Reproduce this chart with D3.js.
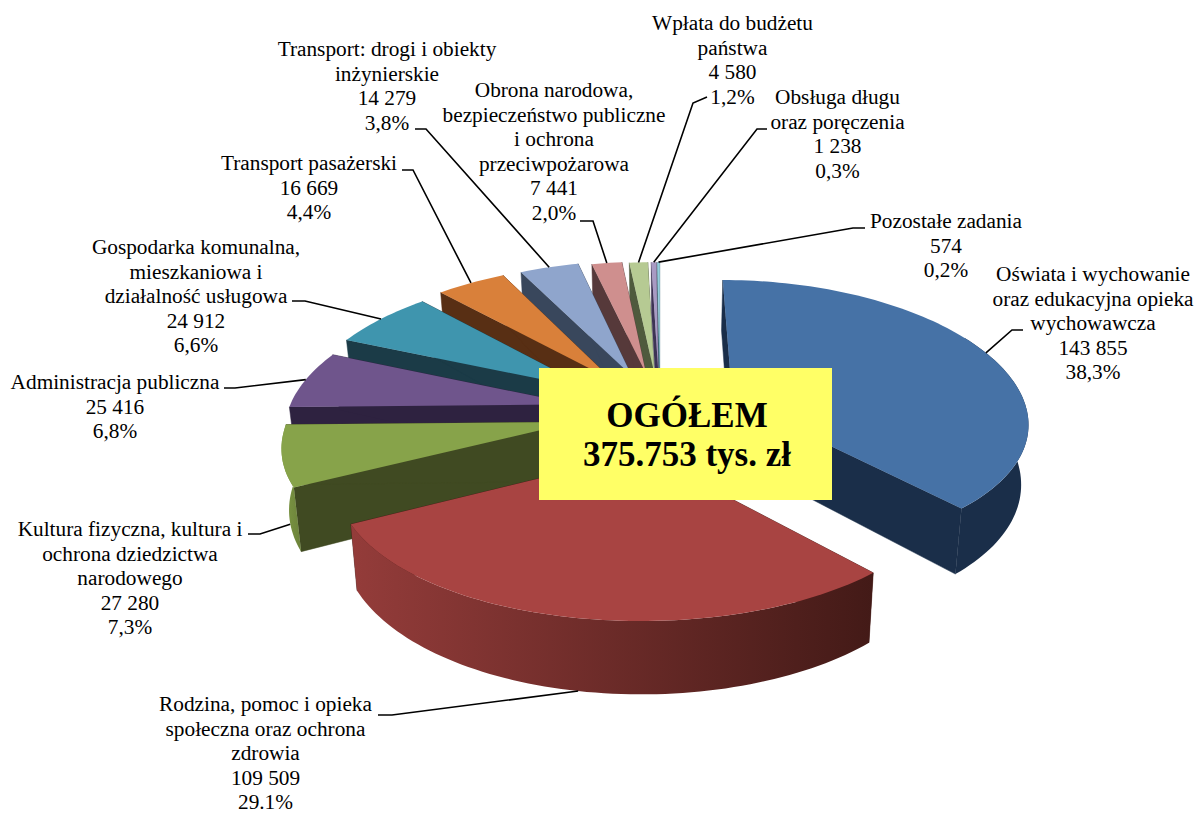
<!DOCTYPE html>
<html><head><meta charset="utf-8">
<script src="https://cdn.jsdelivr.net/npm/d3@7/dist/d3.min.js"></script>
<style>html,body{margin:0;padding:0;background:#fff}svg{display:block}text{font-family:"Liberation Serif",serif;fill:#000}</style>
</head><body><svg id="c" width="1195" height="814"></svg>
<script>
const categories=[
 ["Oświata i wychowanie","oraz edukacyjna opieka","wychowawcza"],
 ["Rodzina, pomoc i opieka","społeczna oraz ochrona","zdrowia"],
 ["Kultura fizyczna, kultura i","ochrona dziedzictwa","narodowego"],
 ["Administracja publiczna"],
 ["Gospodarka komunalna,","mieszkaniowa i","działalność usługowa"],
 ["Transport pasażerski"],
 ["Transport: drogi i obiekty","inżynierskie"],
 ["Obrona narodowa,","bezpieczeństwo publiczne","i ochrona","przeciwpożarowa"],
 ["Wpłata do budżetu","państwa"],
 ["Obsługa długu","oraz poręczenia"],
 ["Pozostałe zadania"]];
const values=[143855,109509,27280,25416,24912,16669,14279,7441,4580,1238,574];
const percents=["38,3%","29.1%","7,3%","6,8%","6,6%","4,4%","3,8%","2,0%","1,2%","0,3%","0,2%"];
const topColors=["#4672a6","#a84442","#87a34a","#6f558c","#3f95ae","#d9803a","#8fa5cc","#cf8f8e","#b6ca93","#a89ac3","#93cddd"];
const cutColors=["#1a2e49","#431a17","#404a22","#2e2240","#1b3b47","#582f14","#39475c","#56393a","#4f5a3d","#3d3355","#3b6b78"];
const rimLight=["#1a2e49","#943c3a","#7f9a45","#2e2240","#1b3b47","#582f14","#39475c","#56393a","#4f5a3d","#3d3355","#3b6b78"];
const rimDark=["#1a2e49","#431a17","#6b823a","#2e2240","#1b3b47","#582f14","#39475c","#56393a","#4f5a3d","#3d3355","#3b6b78"];
const labelCenters=[[1093,275],[265.5,704.9],[130,530],[115,383],[196,248],[309,164],[387,50],[554,91],[732.5,24],[837.5,98],[946,222]];
const leaderElbows=[[[1023,330],[1012,330]],[[378,715],[392,715]],[[248,534],[260,534]],[[224,388],[235,388]],[[292,301],[305,301]],[[402,170],[413,170]],[[415,129],[426,129]],[[580,221],[593,221]],[[707,97],[693,103]],[[767,129],[757,129]],[[865,228],[853,228]]];
const leaderDrop=[0,1,1.1,0,0,0,0,0,0,0,0];
const radiusScale=[1.025,1.01,.99,1,1.02,1.035,1.03,1.01,1,1,1];
const explodeScale=[.91,1,1,1,1,1,1,1,1,1,1];
const boxText=["OGÓŁEM","375.753 tys. zł"];
const lineStep=24.6, fontPx=21.3;

const cx=660,cy=412,R=288,A=134,perspX=.15,perspY=.125,explode=.3,depth=59,shrink=.98;
const svg=d3.select("#c");
const defs=svg.append("defs");
const fmt=d3.formatLocale({decimal:",",thousands:"\u00a0",grouping:[3],currency:["",""]}).format(",d");

function proj(X,Y,low){
  const fx=1/(1+perspX*Y), fy=1/(1+perspY*Y);
  let x=cx+R*X*fx,y=cy-A*Y*fy;
  if(low>0){x=cx+(x-cx)*(1-(1-shrink)*low);y+=depth*fx*low;}
  return [x,y];
}
const arcs=d3.pie().sort(null).value(v=>v).startAngle(0).endAngle(2*Math.PI)(values);
function slicePts(d,i){
  const mid=(d.startAngle+d.endAngle)/2, e=explode*explodeScale[i], ex=e*Math.sin(mid), ey=e*Math.cos(mid);
  const n=Math.max(4,Math.ceil((d.endAngle-d.startAngle)*40));
  const ang=d3.range(n+1).map(k=>d.startAngle+(d.endAngle-d.startAngle)*k/n);
  return {mid,ex,ey,ang,r:radiusScale[i]};
}
const line=d3.line();
const g=svg.append("g");
const rimFrom=Math.PI/3, rimTo=1.5*Math.PI;
const order=[10,9,8,7,6,5,4,3,0,2,1];
order.forEach(i=>{
  const d=arcs[i],{ex,ey,ang,r}=slicePts(d,i);
  const pt=(a,low)=>proj(r*Math.sin(a)+ex,r*Math.cos(a)+ey,low);
  const apex=low=>proj(ex,ey,low);
  const s=g.append("g");
  const top=ang.map(a=>pt(a,0));
  [ang[0],ang[ang.length-1]].forEach(a=>{
    s.append("path").attr("d",line([apex(0),pt(a,0),pt(a,1),apex(1)])+"Z").attr("fill",cutColors[i]).attr("stroke",cutColors[i]).attr("stroke-width",.5);
  });
  const front=ang.filter(a=>a>=rimFrom&&a<=rimTo);
  if(front.length>1){
    const t=front.map(a=>pt(a,0)), b=front.map(a=>pt(a,1));
    const id="rim"+i, xs=t.concat(b).map(p=>p[0]);
    const gr=defs.append("linearGradient").attr("id",id).attr("gradientUnits","userSpaceOnUse")
      .attr("x1",d3.min(xs)).attr("x2",d3.max(xs)).attr("y1",0).attr("y2",0);
    gr.append("stop").attr("offset",0).attr("stop-color",rimLight[i]);
    gr.append("stop").attr("offset",1).attr("stop-color",rimDark[i]);
    s.append("path").attr("d",line(t.concat(b.reverse()))+"Z").attr("fill","url(#"+id+")");
  }
  s.append("path").attr("d",line([apex(0)].concat(top))+"Z").attr("fill",topColors[i]);
});

const lg=svg.append("g");
arcs.forEach((d,i)=>{
  const {ex,ey,mid,r}=slicePts(d,i);
  const end=proj(r*Math.sin(mid)+ex,r*Math.cos(mid)+ey,leaderDrop[i]);
  lg.append("path").attr("d",line(leaderElbows[i].concat([end]))).attr("fill","none").attr("stroke","#000").attr("stroke-width",1.6);
});
const tg=svg.append("g");
categories.forEach((c,i)=>{
  const lines=c.concat([fmt(values[i]),percents[i]]);
  const t=tg.append("text").attr("text-anchor","middle").attr("font-size",fontPx);
  lines.forEach((l,k)=>t.append("tspan").attr("x",labelCenters[i][0]).attr("y",labelCenters[i][1]+6+k*lineStep).text(l));
});
svg.append("rect").attr("x",539).attr("y",368).attr("width",293).attr("height",132).attr("fill","#ffff66");
boxText.forEach((b,i)=>svg.append("text").attr("x",687).attr("y",427+i*39).attr("text-anchor","middle").attr("font-size",35).attr("font-weight","bold").text(b));
</script></body></html>
